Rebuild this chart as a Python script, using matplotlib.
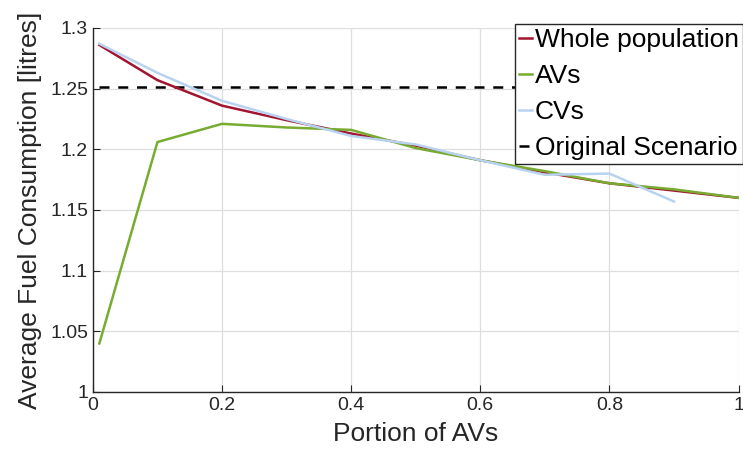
import matplotlib
matplotlib.use("Agg")
import matplotlib.pyplot as plt

x = [0.01, 0.1, 0.2, 0.3, 0.4, 0.5, 0.6, 0.7, 0.8, 0.9, 1.0]
whole = [1.286, 1.257, 1.236, 1.224, 1.213, 1.203, 1.191, 1.181, 1.172, 1.166, 1.160]
avs = [1.040, 1.206, 1.221, 1.218, 1.216, 1.201, 1.191, 1.182, 1.172, 1.167, 1.160]
cvs_x = [0.01, 0.1, 0.2, 0.3, 0.4, 0.5, 0.6, 0.7, 0.8, 0.9]
cvs = [1.287, 1.263, 1.240, 1.225, 1.211, 1.204, 1.191, 1.179, 1.180, 1.157]
original = 1.251
xticks = [0, 0.2, 0.4, 0.6, 0.8, 1]
xticklabels = ['0', '0.2', '0.4', '0.6', '0.8', '1']
yticks = [1, 1.05, 1.1, 1.15, 1.2, 1.25, 1.3]
yticklabels = ['1', '1.05', '1.1', '1.15', '1.2', '1.25', '1.3']

plt.rcParams['font.family'] = ['Liberation Sans', 'DejaVu Sans']

fig = plt.figure(figsize=(7.43, 4.55), dpi=100)
ax = fig.add_axes([0.125, 0.1385, 0.869, 0.8])

ax.plot(x, whole, color='#A2142F', lw=1.8, label='Whole population', zorder=3)
ax.plot(x, avs, color='#77AC30', lw=1.8, label='AVs', zorder=3)
ax.plot(cvs_x, cvs, color='#B8D3F0', lw=1.8, label='CVs', zorder=4)
ax.plot([0.01, 1.0], [original, original], color='black', lw=1.8, ls=(0, (4, 3.5)),
        label='Original Scenario', zorder=2)

ax.set_xlim(0, 1)
ax.set_ylim(1, 1.3)
ax.set_xticks(xticks)
ax.set_xticklabels(xticklabels)
ax.set_yticks(yticks)
ax.set_yticklabels(yticklabels)
ax.tick_params(direction='in', labelsize=14, length=5, color='#262626', labelcolor='#262626')
ax.grid(True, color='#dedede', lw=0.9)
ax.set_axisbelow(True)
for s in ['top', 'right']:
    ax.spines[s].set_visible(False)
for s in ['left', 'bottom']:
    ax.spines[s].set_color('#262626')
    ax.spines[s].set_linewidth(1.0)

ax.set_xlabel('Portion of AVs', fontsize=19, color='#262626', labelpad=6)
ax.set_ylabel('Average Fuel Consumption [litres]', fontsize=19, color='#262626', labelpad=6)

leg = ax.legend(loc='upper right', bbox_to_anchor=(1.007, 1.01), fontsize=19,
                handlelength=0.5, handletextpad=0.1, borderpad=0.15, labelspacing=0.45,
                borderaxespad=0.0, fancybox=False, framealpha=1, edgecolor='#262626')
leg.get_frame().set_linewidth(1.0)

fig.savefig('out.png', dpi=100)
